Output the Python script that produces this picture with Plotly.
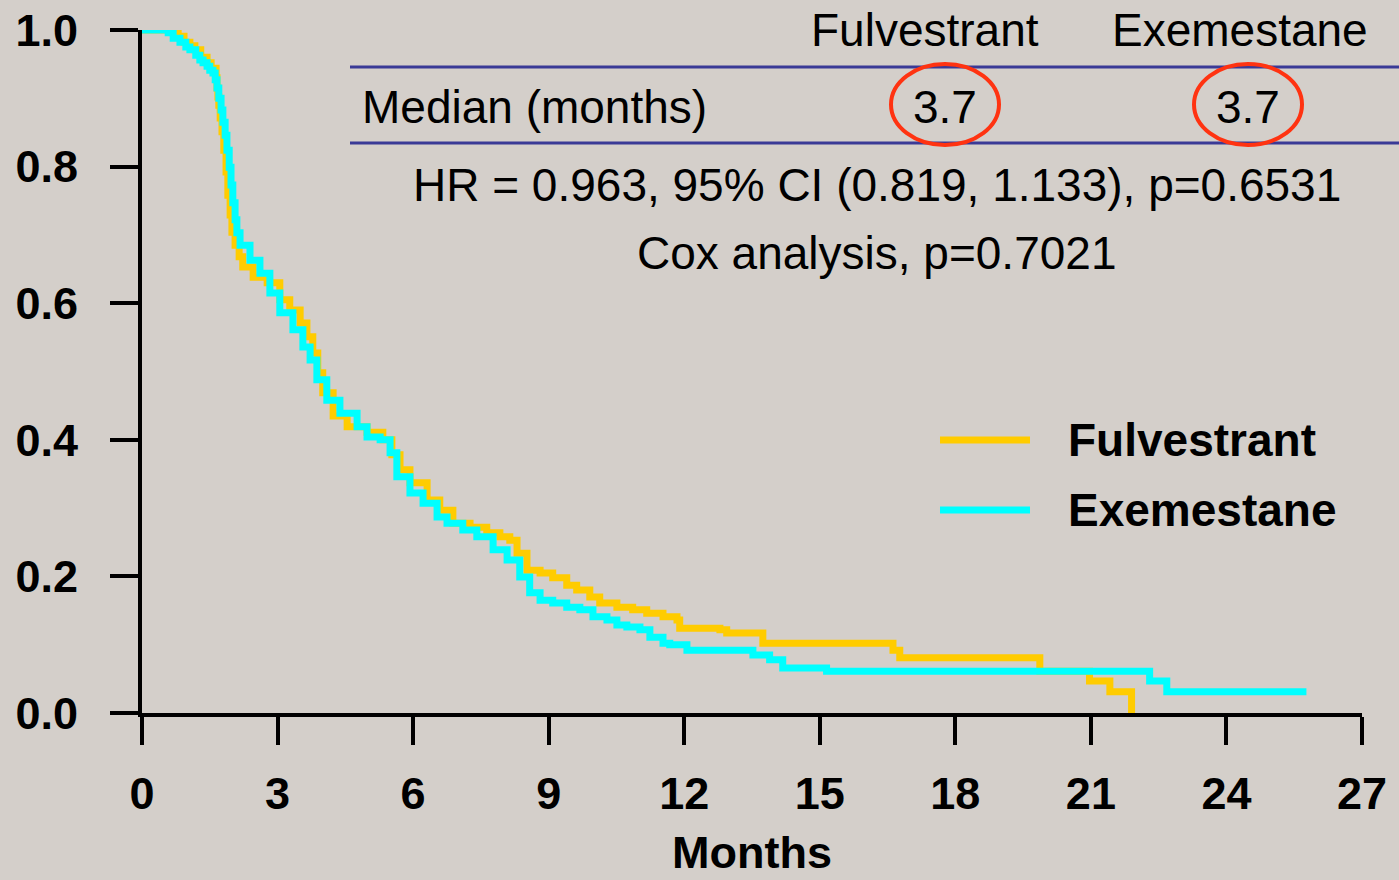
import plotly.graph_objects as go

# Kaplan-Meier step data (months, survival proportion)
fulv_t = [0.00, 0.46, 0.62, 0.80, 0.93, 1.06, 1.17, 1.30, 1.44, 1.53, 1.64, 1.66, 1.68, 1.70,
          1.73, 1.77, 1.81, 1.86, 1.90, 1.95, 1.99, 2.06, 2.15, 2.23, 2.46,
          2.77, 3.05, 3.27, 3.50, 3.65, 3.78, 3.89, 4.00, 4.23, 4.54, 4.98, 5.33, 5.53,
          5.71, 5.93, 6.31, 6.59, 6.88, 7.26, 7.63, 7.92, 8.14, 8.30, 8.52, 8.81, 9.09,
          9.40, 9.62, 9.91, 10.13, 10.51, 10.86, 11.17, 11.53, 11.84, 11.90, 12.79, 12.94,
          13.74, 16.62, 16.77, 19.87, 20.97, 21.42, 21.90, 21.92]
fulv_s = [1.000, 1.000, 0.999, 0.991, 0.982, 0.977, 0.971, 0.960, 0.952, 0.944, 0.930, 0.915,
          0.902, 0.890, 0.871, 0.851, 0.824, 0.792, 0.758, 0.729, 0.704, 0.685, 0.668, 0.653,
          0.638, 0.630, 0.605, 0.590, 0.571, 0.551, 0.527, 0.498, 0.469, 0.435, 0.419, 0.411,
          0.400, 0.378, 0.356, 0.337, 0.312, 0.297, 0.278, 0.272, 0.264, 0.258, 0.253, 0.234,
          0.209, 0.205, 0.198, 0.187, 0.180, 0.170, 0.161, 0.155, 0.151, 0.146, 0.141, 0.136,
          0.124, 0.122, 0.117, 0.102, 0.092, 0.081, 0.061, 0.047, 0.031, 0.000, 0.000]

exem_t = [0.00, 0.44, 0.58, 0.69, 0.84, 0.97, 1.06, 1.19, 1.28, 1.35, 1.44, 1.50, 1.57, 1.62,
          1.66, 1.70, 1.75, 1.79, 1.84, 1.88, 1.93, 1.97, 2.01, 2.06, 2.10, 2.17, 2.39,
          2.61, 2.83, 3.05, 3.34, 3.56, 3.72, 3.87, 4.09, 4.38, 4.76, 4.98, 5.27, 5.49,
          5.64, 5.93, 6.22, 6.53, 6.75, 7.10, 7.41, 7.77, 8.08, 8.36, 8.58, 8.81, 9.09,
          9.40, 9.69, 9.98, 10.29, 10.51, 10.73, 11.02, 11.24, 11.53, 11.68, 12.06, 13.52,
          13.89, 14.18, 15.15, 22.30, 22.68, 25.77]
exem_s = [1.000, 1.000, 0.996, 0.988, 0.982, 0.975, 0.971, 0.963, 0.956, 0.952, 0.947, 0.941,
          0.937, 0.927, 0.915, 0.900, 0.883, 0.865, 0.846, 0.824, 0.799, 0.773, 0.747, 0.722,
          0.703, 0.685, 0.663, 0.644, 0.615, 0.586, 0.561, 0.536, 0.517, 0.488, 0.458, 0.439,
          0.419, 0.404, 0.400, 0.381, 0.346, 0.322, 0.307, 0.287, 0.278, 0.268, 0.258, 0.239,
          0.224, 0.199, 0.176, 0.165, 0.161, 0.155, 0.151, 0.141, 0.136, 0.129, 0.126, 0.122,
          0.111, 0.102, 0.100, 0.092, 0.085, 0.078, 0.066, 0.061, 0.047, 0.031, 0.031]

x_ticks = [0, 3, 6, 9, 12, 15, 18, 21, 24, 27]
y_ticks = [0.0, 0.2, 0.4, 0.6, 0.8, 1.0]

arms = ["Fulvestrant", "Exemestane"]
medians = [3.7, 3.7]
hr_text = "HR = 0.963, 95% CI (0.819, 1.133), p=0.6531"
cox_text = "Cox analysis, p=0.7021"
x_title = "Months"

YELLOW = "#ffcc00"
CYAN = "#00ffff"
FONT = "Liberation Sans, Arial, Helvetica, sans-serif"
BG = "#d4cfca"

fig = go.Figure()
fig.add_trace(go.Scatter(x=fulv_t, y=fulv_s, mode="lines", line=dict(color=YELLOW, width=7, shape="hv"),
                         cliponaxis=False, showlegend=False, name=arms[0]))
fig.add_trace(go.Scatter(x=exem_t, y=exem_s, mode="lines", line=dict(color=CYAN, width=7, shape="hv"),
                         cliponaxis=False, showlegend=False, name=arms[1]))

axis_common = dict(showgrid=False, zeroline=False, showline=True, linecolor="black", linewidth=4,
                   ticks="outside", ticklen=28, tickwidth=4, tickcolor="black", automargin=False,
                   tickfont=dict(family=FONT, size=45, color="black", weight="bold"))

fig.update_xaxes(range=[0, 27], tickvals=x_ticks, ticktext=[str(v) for v in x_ticks],
                 ticklabelstandoff=10, **axis_common)
fig.update_yaxes(range=[0, 1], tickvals=y_ticks, ticktext=[f"{v:.1f}" for v in y_ticks],
                 ticklabelstandoff=23, **axis_common)

# pixel -> paper helpers for the plot frame (142..1362 x, 30..713 y)
def px(x):
    return (x - 142) / 1220

def py(y):
    return (713 - y) / 683

shapes = []
annotations = []

# x-axis title near the bottom edge of the page
annotations.append(dict(xref="paper", yref="paper", x=px(752), y=py(853), text=f"<b>{x_title}</b>",
                        showarrow=False, font=dict(family=FONT, size=45, color="black"),
                        xanchor="center", yanchor="middle"))

# median table rules
for yy in (67, 143):
    shapes.append(dict(type="line", xref="paper", yref="paper", x0=px(350), x1=px(1399),
                       y0=py(yy), y1=py(yy), line=dict(color="#3a3a96", width=3)))

txt_font = dict(family=FONT, size=46, color="black")
annotations.append(dict(xref="paper", yref="paper", x=px(925), y=py(30), text=arms[0],
                        showarrow=False, font=txt_font, xanchor="center", yanchor="middle"))
annotations.append(dict(xref="paper", yref="paper", x=px(1240), y=py(30), text=arms[1],
                        showarrow=False, font=txt_font, xanchor="center", yanchor="middle"))
annotations.append(dict(xref="paper", yref="paper", x=px(360), y=py(107), text="Median (months)",
                        showarrow=False, font=txt_font, xanchor="left", yanchor="middle"))
for cx, m in zip((945, 1248), medians):
    annotations.append(dict(xref="paper", yref="paper", x=px(cx), y=py(107), text=f"{m:.1f}",
                            showarrow=False, font=txt_font, xanchor="center", yanchor="middle"))
    shapes.append(dict(type="circle", xref="paper", yref="paper",
                       x0=px(cx - 54), x1=px(cx + 54), y0=py(145), y1=py(64),
                       line=dict(color="#ff3311", width=4)))

annotations.append(dict(xref="paper", yref="paper", x=px(877), y=py(185), text=hr_text,
                        showarrow=False, font=txt_font, xanchor="center", yanchor="middle"))
annotations.append(dict(xref="paper", yref="paper", x=px(877), y=py(253), text=cox_text,
                        showarrow=False, font=txt_font, xanchor="center", yanchor="middle"))

# legend
for yy, col, name in ((440, YELLOW, arms[0]), (510, CYAN, arms[1])):
    shapes.append(dict(type="line", xref="paper", yref="paper", x0=px(940), x1=px(1030),
                       y0=py(yy), y1=py(yy), line=dict(color=col, width=7)))
    annotations.append(dict(xref="paper", yref="paper", x=px(1066), y=py(yy), text=f"<b>{name}</b>",
                            showarrow=False, font=txt_font, xanchor="left", yanchor="middle"))

fig.update_layout(
    width=1399, height=880,
    margin=dict(l=142, r=37, t=30, b=167),
    paper_bgcolor=BG, plot_bgcolor=BG,
    shapes=shapes, annotations=annotations,
    showlegend=False,
)

fig.write_html("out.html")
